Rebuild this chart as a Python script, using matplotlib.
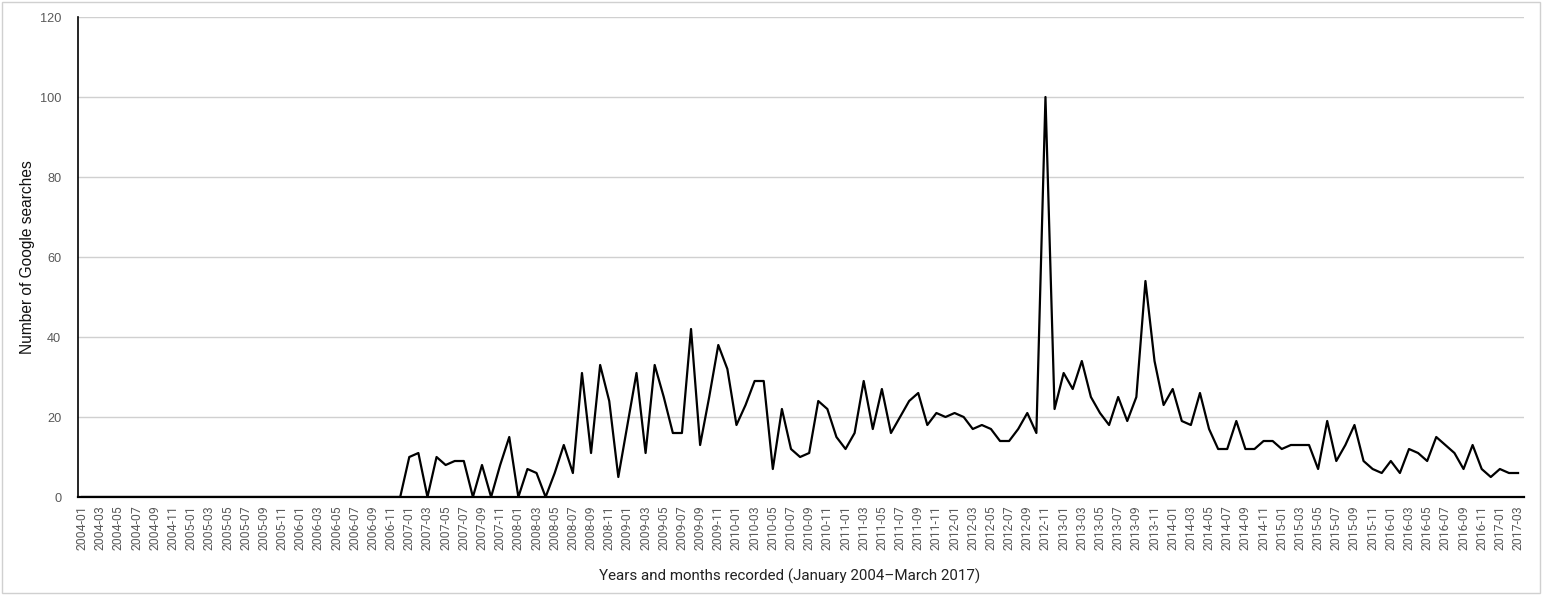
import matplotlib
matplotlib.use('Agg')
import matplotlib.pyplot as plt
from matplotlib.patches import Rectangle

plt.rcParams['font.family'] = ['Roboto', 'DejaVu Sans']

# monthly search counts, Jan 2004 - Mar 2017
v2004 = [0] * 12
v2005 = [0] * 12
v2006 = [0] * 12
v2007 = [10, 11, 0, 10, 8, 9, 9, 0, 8, 0, 8, 15]
v2008 = [0, 7, 6, 0, 6, 13, 6, 31, 11, 33, 24, 5]
v2009 = [18, 31, 11, 33, 25, 16, 16, 42, 13, 25, 38, 32]
v2010 = [18, 23, 29, 29, 7, 22, 12, 10, 11, 24, 22, 15]
v2011 = [12, 16, 29, 17, 27, 16, 20, 24, 26, 18, 21, 20]
v2012 = [21, 20, 17, 18, 17, 14, 14, 17, 21, 16, 100, 22]
v2013 = [31, 27, 34, 25, 21, 18, 25, 19, 25, 54, 34, 23]
v2014 = [27, 19, 18, 26, 17, 12, 12, 19, 12, 12, 14, 14]
v2015 = [12, 13, 13, 13, 7, 19, 9, 13, 18, 9, 7, 6]
v2016 = [9, 6, 12, 11, 9, 15, 13, 11, 7, 13, 7, 5]
v2017 = [7, 6, 6]

searches = (v2004 + v2005 + v2006 + v2007 + v2008 + v2009 + v2010 +
            v2011 + v2012 + v2013 + v2014 + v2015 + v2016 + v2017)
months = ['%d-%02d' % (2004 + i // 12, i % 12 + 1) for i in range(len(searches))]

fig = plt.figure(figsize=(15.42, 5.95), dpi=100)
ax = fig.add_axes([0.0506, 0.1647, 0.9377, 0.8067])

ax.plot(range(len(searches)), searches, color='black', linewidth=1.6)

ax.set_xlim(-0.45, len(searches) - 0.35)
ax.set_ylim(0, 120)
ax.set_yticks(range(0, 121, 20))
ax.set_xticks(range(0, len(searches), 2))
ax.set_xticklabels(months[::2], rotation=90)
ax.tick_params(axis='both', length=0, colors='#595959')
ax.tick_params(axis='x', pad=6, labelsize=8.8)
ax.tick_params(axis='y', pad=12, labelsize=9.2)
for lbl in ax.get_yticklabels():
    lbl.set_family('Liberation Sans')
ax.grid(axis='y', color='#d0d0d0', linewidth=1)
ax.set_axisbelow(True)

for s in ['top', 'right']:
    ax.spines[s].set_visible(False)
ax.spines['left'].set_color('black')
ax.spines['left'].set_linewidth(1.2)
ax.spines['bottom'].set_color('black')
ax.spines['bottom'].set_linewidth(1.6)

ax.set_ylabel('Number of Google searches', fontsize=11.2, color='#111111',
              family='Liberation Sans')
ax.yaxis.set_label_coords(-0.0297, 0.5)
ax.set_xlabel('Years and months recorded (January 2004\u2013March 2017)',
              fontsize=10.9, color='#222222')
ax.xaxis.set_label_coords(0.492, -0.150)

fig.patches.append(Rectangle((0.0015, 0.004), 0.997, 0.993, transform=fig.transFigure,
                             fill=False, edgecolor='#d0d0d0', linewidth=1))

fig.savefig('out.png', dpi=100)
